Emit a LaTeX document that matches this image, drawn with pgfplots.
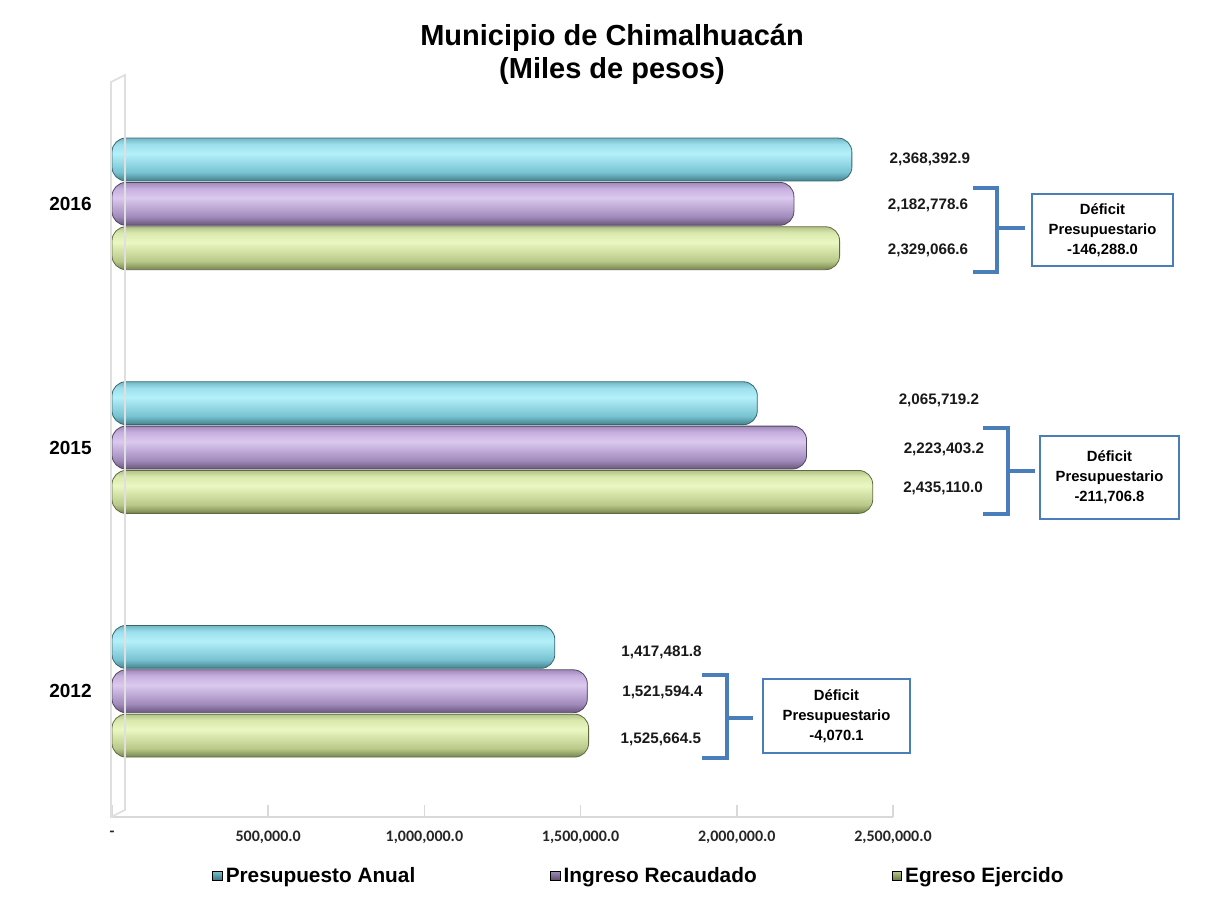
\documentclass[border=0pt]{standalone}
\usepackage{pgfplots}
\pgfplotsset{compat=1.18}
\usepackage{fontspec}
\setmainfont{Liberation Sans}
\newfontfamily\carlito{Carlito}

% cylinder colours: bottom, mid, highlight, light, top
\definecolor{cyB}{HTML}{44818D}\definecolor{cyM}{HTML}{78C2D1}\definecolor{cyH}{HTML}{B4F0FA}\definecolor{cyL}{HTML}{9CDFEC}\definecolor{cyT}{HTML}{74B6C4}
\definecolor{puB}{HTML}{675778}\definecolor{puM}{HTML}{A18ABC}\definecolor{puH}{HTML}{DBC9EE}\definecolor{puL}{HTML}{C6AFDF}\definecolor{puT}{HTML}{A08ABA}
\definecolor{grB}{HTML}{778551}\definecolor{grM}{HTML}{B9C988}\definecolor{grH}{HTML}{EAF7C2}\definecolor{grL}{HTML}{D9E9AD}\definecolor{grT}{HTML}{B3C388}
\colorlet{shcyand}{cyB!80!black}
\colorlet{shpurd}{puB!80!black}
\colorlet{shgrnd}{grB!80!black}
\definecolor{brk}{HTML}{4A7EBB}

\pgfdeclareverticalshading{shcyan}{100bp}{color(0bp)=(cyB); color(25bp)=(cyB); color(35bp)=(cyM); color(57bp)=(cyH); color(68bp)=(cyL); color(75bp)=(cyT); color(100bp)=(cyT)}
\pgfdeclareverticalshading{shpur}{100bp}{color(0bp)=(puB); color(25bp)=(puB); color(35bp)=(puM); color(57bp)=(puH); color(68bp)=(puL); color(75bp)=(puT); color(100bp)=(puT)}
\pgfdeclareverticalshading{shgrn}{100bp}{color(0bp)=(grB); color(25bp)=(grB); color(35bp)=(grM); color(57bp)=(grH); color(68bp)=(grL); color(75bp)=(grT); color(100bp)=(grT)}

\pgfplotsset{
  bar3d/.style={xbar, bar width=0.176, mark=none, shade, shading=#1, draw=#1d, line width=0.4pt, rounded corners=7pt, forget plot},
}
\tikzset{vl/.style={font=\bfseries\fontsize{7.6}{9}\selectfont, text=black!90}}

\begin{document}
\begin{tikzpicture}
\useasboundingbox (0,0) rectangle (603pt,453.5pt);
\fill[white] (0,0) rectangle (603pt,453.5pt);

\begin{axis}[
  at={(56pt,45pt)}, anchor=south west,
  scale only axis, width=390.5pt, height=367.5pt,
  xmin=0, xmax=2500000, ymin=-0.516, ymax=2.5,
  clip=false, no markers,
  axis x line*=bottom, axis y line*=left,
  x axis line style={draw=gray!30, line width=0.8pt},
  y axis line style={draw=none},
  scaled x ticks=false,
  xtick={0,500000,1000000,1500000,2000000,2500000},
  xticklabels={-,{500,000.0},{1,000,000.0},{1,500,000.0},{2,000,000.0},{2,500,000.0}},
  tick style={draw=gray!30, line width=0.8pt}, tick align=inside, major tick length=6pt,
  ytick={0,1,2}, yticklabels={2012,2015,2016},
  xticklabel style={font=\carlito\bfseries\fontsize{8}{9}\selectfont, inner sep=0pt, yshift=-7pt, text=black!85},
  yticklabel style={font=\bfseries\fontsize{9.5}{11}\selectfont, inner sep=0pt, xshift=-10pt},
  legend style={draw=none, fill=none, at={(0.128,-0.0803)}, anchor=west,
    legend columns=3, font=\bfseries\fontsize{10.4}{12}\selectfont, inner sep=0pt,
    /tikz/every even column/.append style={column sep=66pt},
    nodes={inner xsep=1.5pt, inner ysep=1pt}},
  legend cell align=left,
]
\addlegendimage{legend image code/.code={\shade[top color=cyM, bottom color=cyB!85!black] (0pt,-2.4pt) rectangle (4.8pt,2.4pt);}}
\addlegendimage{legend image code/.code={\shade[top color=puM, bottom color=puB!85!black] (0pt,-2.4pt) rectangle (4.8pt,2.4pt);}}
\addlegendimage{legend image code/.code={\shade[top color=grM, bottom color=grB!85!black] (0pt,-2.4pt) rectangle (4.8pt,2.4pt);}}

% Presupuesto Anual
\addplot[bar3d=shcyan, bar shift=0.182] coordinates {(1417481.8,0)};
\addplot[bar3d=shcyan, bar shift=0.182] coordinates {(2065719.2,1)};
\addplot[bar3d=shcyan, bar shift=0.182] coordinates {(2368392.9,2)};
% Ingreso Recaudado
\addplot[bar3d=shpur, bar shift=0] coordinates {(1521594.4,0)};
\addplot[bar3d=shpur, bar shift=0] coordinates {(2223403.2,1)};
\addplot[bar3d=shpur, bar shift=0] coordinates {(2182778.6,2)};
% Egreso Ejercido
\addplot[bar3d=shgrn, bar shift=-0.182] coordinates {(1525664.5,0)};
\addplot[bar3d=shgrn, bar shift=-0.182] coordinates {(2435110.0,1)};
\addplot[bar3d=shgrn, bar shift=-0.182] coordinates {(2329066.6,2)};

\legend{Presupuesto Anual, Ingreso Recaudado, Egreso Ejercido}

% value labels
\node[vl] at (axis cs:2618000,2.184) {2,368,392.9};
\node[vl] at (axis cs:2612000,1.992) {2,182,778.6};
\node[vl] at (axis cs:2612000,1.811) {2,329,066.6};
\node[vl] at (axis cs:2647000,1.193) {2,065,719.2};
\node[vl] at (axis cs:2663000,0.992) {2,223,403.2};
\node[vl] at (axis cs:2660000,0.832) {2,435,110.0};
\node[vl] at (axis cs:1759000,0.160) {1,417,481.8};
\node[vl] at (axis cs:1762000,-0.004) {1,521,594.4};
\node[vl] at (axis cs:1757000,-0.197) {1,525,664.5};
\end{axis}

\begin{scope}[x=0.5pt,y=-0.5pt,shift={(0pt,453.5pt)}]
  \node[font=\bfseries\fontsize{14.5}{17}\selectfont] at (612,38) {Municipio de Chimalhuacán};
  \node[font=\bfseries\fontsize{14.5}{17}\selectfont] at (612,71) {(Miles de pesos)};
  % back wall
  \draw[gray!25, line width=0.8pt] (111,817) -- (111,82) -- (125,75) -- (125,810) -- cycle;
  % brackets and boxes
  \tikzset{bk/.style={brk, line width=1.6pt}, bx/.style={draw=brk, line width=0.8pt, align=center, inner sep=0pt,
    font=\bfseries\fontsize{7.4}{10}\selectfont}}
  \draw[bk] (973,188) -- (997,188) -- (997,272) -- (973,272);
  \draw[bk] (997,228) -- (1025,228);
  \node[bx, minimum width=70.5pt, minimum height=36pt] at (1102.5,230) {Déficit\\Presupuestario\\-146,288.0};
  \draw[bk] (983,428) -- (1008,428) -- (1008,514) -- (983,514);
  \draw[bk] (1008,471) -- (1035,471);
  \node[bx, minimum width=69.5pt, minimum height=41.5pt] at (1109.5,477.5) {Déficit\\Presupuestario\\-211,706.8};
  \draw[bk] (702,675) -- (727,675) -- (727,758) -- (702,758);
  \draw[bk] (727,718) -- (753,718);
  \node[bx, minimum width=73.5pt, minimum height=37pt] at (836.5,716) {Déficit\\Presupuestario\\-4,070.1};
\end{scope}
\end{tikzpicture}
\end{document}
